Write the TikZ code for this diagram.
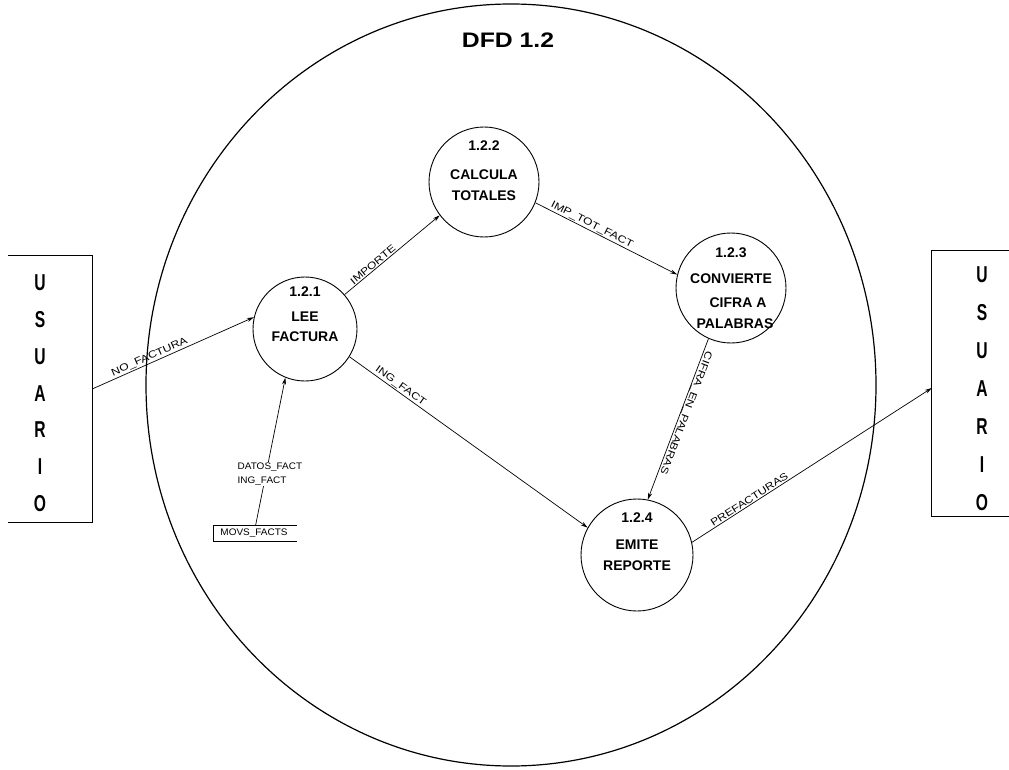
\documentclass[tikz,border=0pt]{standalone}
\usepackage{fontspec}
\setmainfont{Liberation Sans}
\newfontfamily\lblfont{Liberation Sans}[FakeStretch=1.22]
\newfontfamily\storefont{Liberation Sans}[FakeStretch=1.05]
\newfontfamily\titlefont{Liberation Sans}[FakeStretch=1.18]
\newfontfamily\boxfont{Liberation Sans}[FakeStretch=0.68]
\usetikzlibrary{arrows.meta}

\begin{document}
\begin{tikzpicture}[x=1pt,y=-1pt,
  proc/.style={circle, draw, line width=0.9pt, minimum size=#1, inner sep=0pt},
  flow/.style={line width=0.7pt, -{Stealth[length=7pt,width=4pt]}},
  lbl/.style={font=\lblfont\fontsize{10}{11}\selectfont, inner sep=1pt},
  ptext/.style={font=\bfseries\fontsize{14}{15}\selectfont, inner sep=0pt},
  boxletter/.style={font=\boxfont\bfseries\fontsize{23}{24}\selectfont, inner sep=0pt},
  extbox/.style={minimum width=#1, minimum height=266pt, inner sep=0pt},
  edge line/.style={line width=1.3pt},
]
\useasboundingbox (0,0) rectangle (1009,770);

% context boundary of the level-1.2 diagram
\draw[line width=1.2pt] (511,385) ellipse [x radius=365pt, y radius=381pt];
\node[font=\titlefont\bfseries\fontsize{21}{22}\selectfont] (title) at (508,40) {DFD 1.2};

% external entities (boxes open towards the page edge)
\node[extbox=84pt] (uleft) at (50,389) {};
\draw[edge line] (uleft.north west) -- (uleft.north east) -- (uleft.south east) -- (uleft.south west);
\node[extbox=77pt] (uright) at (970.5,383.5) {};
\draw[edge line] (uright.north east) -- (uright.north west) -- (uright.south west) -- (uright.south east);
\foreach \ch [count=\i] in {U,S,U,A,R,I,O} {
  \node[boxletter] (ul\i) at (40,{283+36.7*(\i-1)}) {\ch};
  \node[boxletter] (ur\i) at (982,{275+38*(\i-1)}) {\ch};
}

% processes
\node[proc=104pt] (p1) at (305,329) {};
\node[proc=110pt] (p2) at (484,182) {};
\node[proc=110pt] (p3) at (731,288) {};
\node[proc=112pt] (p4) at (637,555) {};

\node[ptext] (p1a) at (305,292) {1.2.1};
\node[ptext] (p1b) at (305,317) {LEE};
\node[ptext] (p1c) at (305,337) {FACTURA};

\node[ptext] (p2a) at (484,146) {1.2.2};
\node[ptext] (p2b) at (484,175) {CALCULA};
\node[ptext] (p2c) at (484,196) {TOTALES};

\node[ptext] (p3a) at (731,253) {1.2.3};
\node[ptext] (p3b) at (731,279) {CONVIERTE};
\node[ptext] (p3c) at (738,303) {CIFRA A};
\node[ptext] (p3d) at (735,324) {PALABRAS};

\node[ptext] (p4a) at (637,518) {1.2.4};
\node[ptext] (p4b) at (637,545) {EMITE};
\node[ptext] (p4c) at (637,566) {REPORTE};

% data store
\node[minimum width=83pt, minimum height=15pt, inner sep=0pt] (store) at (255.5,533.5) {};
\draw[line width=0.8pt] (store.north east) -- (store.north west) -- (store.south west) -- (store.south east);
\node[font=\storefont\fontsize{9.5}{10}\selectfont, inner sep=0pt] (storetxt) at (254,533.5) {MOVS\_FACTS};

% data flows
\draw[flow] (uleft.east) -- node[lbl, sloped, above, pos=0.37] {NO\_FACTURA} (p1.167);
\draw[flow] (p1.41) -- node[lbl, sloped, above, pos=0.33] {IMPORTE} (p2.217);
\draw[flow] (p2.-22) -- node[lbl, sloped, above, pos=0.38] {IMP\_TOT\_FACT} (p3.166);
\draw[flow] (p1.-32) -- node[lbl, sloped, above, pos=0.2] {ING\_FACT} (p4.151);
\draw[flow] (p3.-114) -- node[lbl, sloped, allow upside down, above, inner sep=0pt, pos=0.45] {CIFRA\_EN\_PALABRAS} (p4.79);
\draw[flow] (p4.13) -- node[lbl, sloped, above, pos=0.25] {PREFACTURAS} ([yshift=-4.5pt]uright.west);
\draw[flow] (store.north) -- node[pos=0.35, xshift=4pt, fill=white, inner sep=1pt, align=left,
    font=\storefont\fontsize{9.5}{14}\selectfont] (dlbl) {DATOS\_FACT\\ING\_FACT} (p1.-112);
\end{tikzpicture}
\end{document}
